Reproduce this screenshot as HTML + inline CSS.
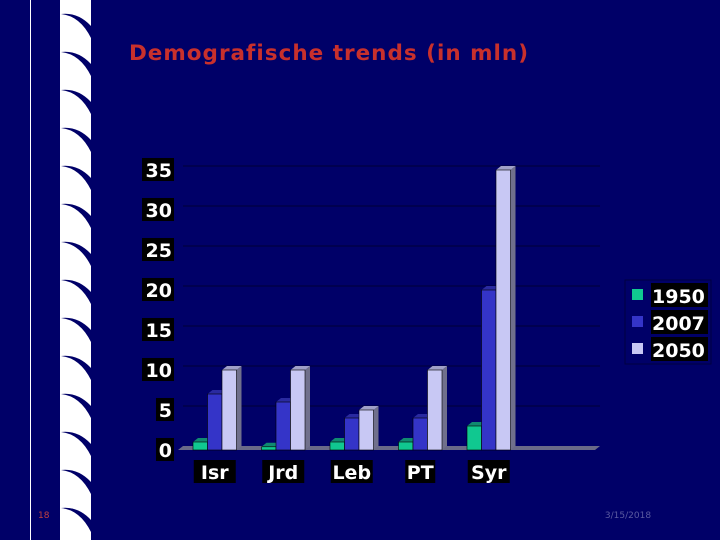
<!DOCTYPE html>
<html><head><meta charset="utf-8"><style>
body{margin:0;width:720px;height:540px;overflow:hidden;background:#000068;font-family:"DejaVu Sans","Liberation Sans",sans-serif}
svg{display:block}
</style></head><body>
<svg width="720" height="540">
<rect width="720" height="540" fill="#000068"/>
<line x1="30.5" y1="0" x2="30.5" y2="540" stroke="#fff" stroke-width="1"/>
<line x1="60.5" y1="0" x2="60.5" y2="540" stroke="#fff" stroke-width="1"/>
<g id="deco"></g>
<text x="329" y="60" text-anchor="middle" font-size="21.5" font-weight="bold" letter-spacing="1" fill="#c8302c">Demografische trends (in mln)</text>
<g id="chart"></g>
<text x="38" y="518" font-size="9" fill="#c04040">18</text>
<text x="628" y="518" text-anchor="middle" font-size="9" fill="#5a5aa0">3/15/2018</text>
</svg>
<script>
const categories=["Isr","Jrd","Leb","PT","Syr"];
const seriesNames=["1950","2007","2050"];
const s1950=[1,0.4,1,1,3];
const s2007=[7,6,4,4,20];
const s2050=[10,10,5,10,35];
const yTicks=[0,5,10,15,20,25,30,35];
const NS="http://www.w3.org/2000/svg";
function mk(t,a,p){const e=document.createElementNS(NS,t);for(const k in a)e.setAttribute(k,a[k]);p.appendChild(e);return e;}
const chart=document.getElementById('chart');
const deco=document.getElementById('deco');
mk('rect',{x:61,y:0,width:30,height:540,fill:'#fff'},deco);
for(let i=0;i<14;i++){const y=i*38+14;
 mk('path',{d:`M61 ${y} Q80 ${y+2} 91 ${y+24} L91 ${y+12} Q78 ${y-2} 61 ${y} Z`,fill:'#000068'},deco);}
const x0=183,y0=450,ppu=8,slot=68.5,bw=14.5,dx=5,dy=4;
const yS=v=>y0-v*ppu;
const xS=i=>x0+10+i*slot;
yTicks.forEach(t=>{if(t>0){const l=mk('line',{x1:x0,x2:600,y1:yS(t)-dy,y2:yS(t)-dy,stroke:'#000040','stroke-width':1.2},chart);
}
 const g=mk('g',{},chart);
 
 const w=t>=10?32:18;
 mk('rect',{x:174-w,y:yS(t)-12,width:w,height:23,fill:'#000'},g);
 const tx=mk('text',{x:172,y:yS(t)+7,'text-anchor':'end','font-size':19,'font-weight':'bold',fill:'#fff'},g);tx.textContent=t;});
const fl=mk('polygon',{points:`${x0-5},${y0} ${x0},${y0-dy} 600,${y0-dy} 595,${y0}`,fill:'#6a6a88'},chart);

const colors=[['#10c890','#0a8060','#108a70'],['#3434c8','#20207a','#2a2aa0'],['#c8c8f4','#70708c','#a0a0c8']];
const series=[s1950,s2007,s2050];
categories.forEach((c,i)=>{
 series.forEach((s,j)=>{const x=xS(i)+j*bw,y=yS(s[i]);
  const g=mk('g',{},chart);
  
  
  mk('polygon',{points:`${x+bw},${y} ${x+bw+dx},${y-dy} ${x+bw+dx},${y0-dy} ${x+bw},${y0}`,fill:colors[j][1]},g);
  mk('polygon',{points:`${x},${y} ${x+dx},${y-dy} ${x+bw+dx},${y-dy} ${x+bw},${y}`,fill:colors[j][2]},g);
  mk('rect',{x:x,y:y,width:bw,height:y0-y,fill:colors[j][0],stroke:'#000','stroke-width':0.6},g);
 });
 const g=mk('g',{},chart);
 
 const cx=xS(i)+bw*1.5;
 const w=c.length*12+6;
 mk('rect',{x:cx-w/2,y:460,width:w,height:23,fill:'#000'},g);
 const t=mk('text',{x:cx,y:479,'text-anchor':'middle','font-size':19,'font-weight':'bold',fill:'#fff'},g);t.textContent=c;
});
const lg=mk('g',{},chart);

mk('rect',{x:625,y:280,width:86,height:84,fill:'#000068',stroke:'#000040'},lg);
seriesNames.forEach((n,j)=>{const cy=295+j*27;
 const e=mk('g',{},lg);
 
 mk('rect',{x:632,y:cy-6,width:11,height:11,fill:colors[j][0]},e);
 mk('rect',{x:651,y:cy-12,width:57,height:24,fill:'#000'},e);
 const t=mk('text',{x:652,y:cy+8,'font-size':19,'font-weight':'bold',fill:'#fff'},e);t.textContent=n;});
</script>
</body></html>
